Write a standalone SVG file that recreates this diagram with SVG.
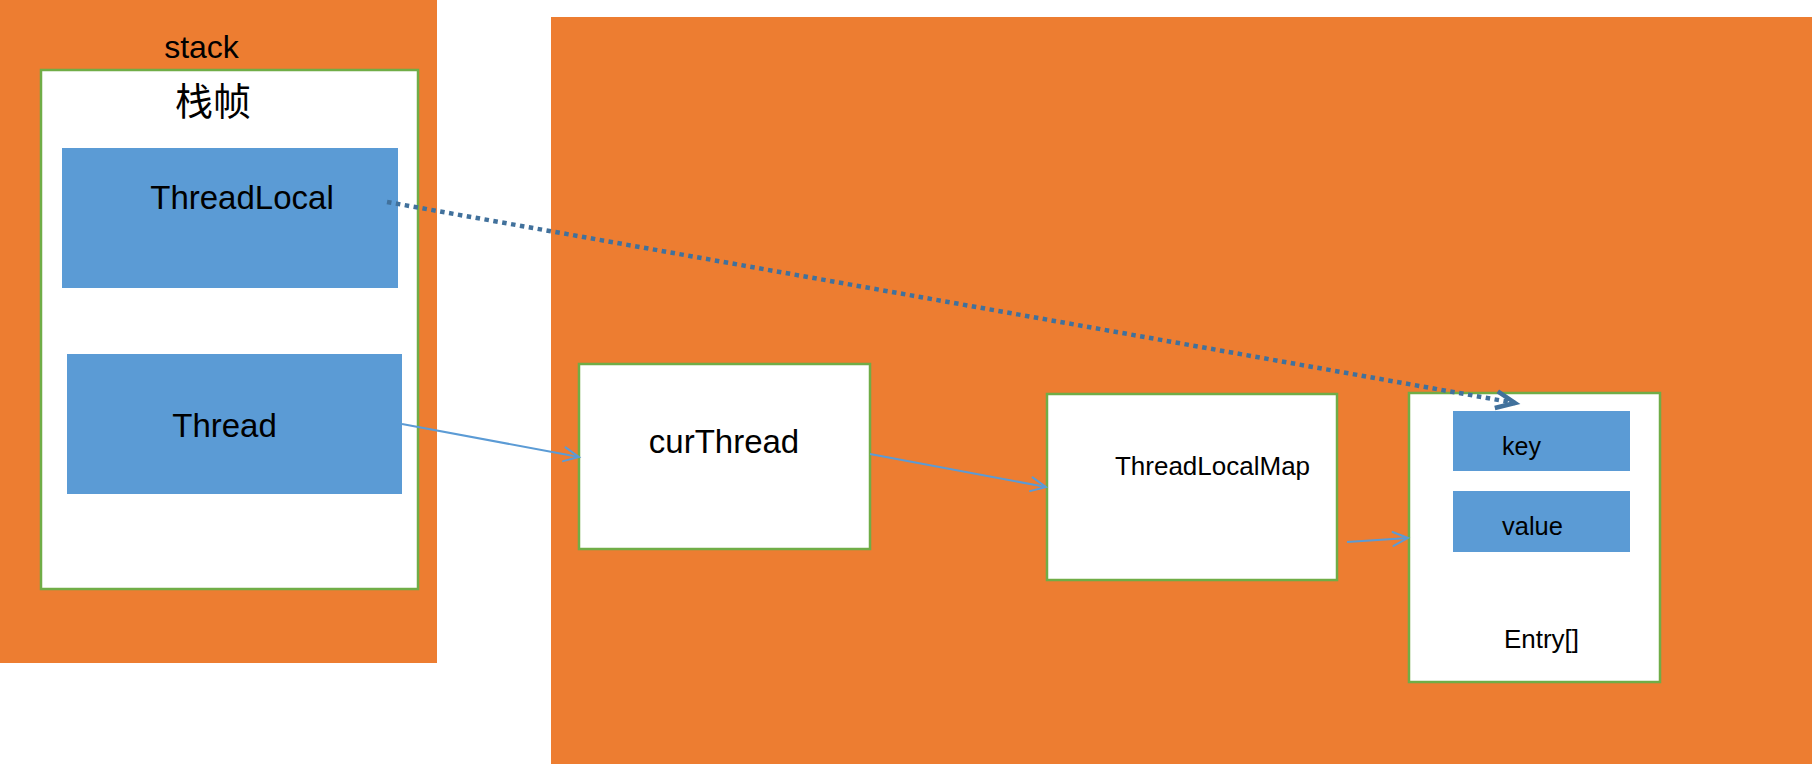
<svg xmlns="http://www.w3.org/2000/svg" width="1812" height="764" viewBox="0 0 1812 764">
<style>
.region{fill:#ED7D31;}
.box{fill:#FFFFFF;stroke:#70AD47;stroke-width:2.5;}
.blue{fill:#5B9BD5;}
.t{font-family:"Liberation Sans",Arial,"Noto Sans CJK SC",sans-serif;fill:#000;text-anchor:middle;}
.cjk{font-family:"Noto Sans CJK SC","Noto Sans CJK TC",sans-serif;fill:#000;text-anchor:middle;}
.ref{fill:none;stroke:#5B9BD5;stroke-width:2;}
.dot{fill:none;stroke:#41719C;stroke-width:4.5;stroke-dasharray:4.5 4.5;}
</style>
<defs>
<marker id="arrowThin" markerUnits="userSpaceOnUse" viewBox="-20 -10 22 20" refX="0" refY="0" markerWidth="22" markerHeight="20" orient="auto" overflow="visible">
<path d="M -15,-7 L 0,0 L -15,7" fill="none" stroke="#5B9BD5" stroke-width="2" stroke-linecap="round" stroke-linejoin="miter"/>
</marker>
<marker id="arrowThick" markerUnits="userSpaceOnUse" viewBox="-24 -12 26 24" refX="0" refY="0" markerWidth="26" markerHeight="24" orient="auto" overflow="visible">
<path d="M -19,-8.5 L 0,0 L -19,8.5" fill="none" stroke="#41719C" stroke-width="4.5" stroke-dasharray="none" stroke-linejoin="miter"/>
</marker>
</defs>

<g id="stack">
<rect class="region" x="0" y="0" width="437" height="663"/>
<text class="t" x="201.5" y="58" font-size="32">stack</text>
</g>

<g id="heap">
<rect class="region" x="551" y="17" width="1261" height="747"/>
</g>

<g id="frame">
<rect class="box" x="41" y="70" width="377" height="519"/>
<text class="cjk" x="213" y="115" font-size="38">栈帧</text>
</g>

<g id="threadLocal">
<rect class="blue" x="62" y="148" width="336" height="140"/>
<text class="t" x="242" y="209" font-size="33">ThreadLocal</text>
</g>

<g id="thread">
<rect class="blue" x="67" y="354" width="335" height="140"/>
<text class="t" x="224.5" y="437" font-size="33">Thread</text>
</g>

<g id="curThread">
<rect class="box" x="579" y="364" width="291" height="185"/>
<text class="t" x="724" y="453" font-size="33">curThread</text>
</g>

<g id="threadLocalMap">
<rect class="box" x="1047" y="394" width="290" height="186"/>
<text class="t" x="1212.5" y="475" font-size="26">ThreadLocalMap</text>
</g>

<g id="entry">
<rect class="box" x="1409" y="393" width="251" height="289"/>
<text class="t" x="1541.5" y="648" font-size="26">Entry[]</text>
</g>

<g id="key">
<rect class="blue" x="1453" y="411" width="177" height="60"/>
<text class="t" x="1521.5" y="455" font-size="25">key</text>
</g>

<g id="value">
<rect class="blue" x="1453" y="491" width="177" height="61"/>
<text class="t" x="1532.5" y="535" font-size="25.5">value</text>
</g>

<g id="connectors">
<line class="ref" x1="402" y1="424" x2="579" y2="457" marker-end="url(#arrowThin)"/>
<line class="ref" x1="870" y1="454" x2="1046" y2="487" marker-end="url(#arrowThin)"/>
<line class="ref" x1="1347" y1="542" x2="1408" y2="538" marker-end="url(#arrowThin)"/>
<line class="dot" x1="387" y1="202" x2="1515" y2="403" marker-end="url(#arrowThick)"/>
</g>
</svg>
